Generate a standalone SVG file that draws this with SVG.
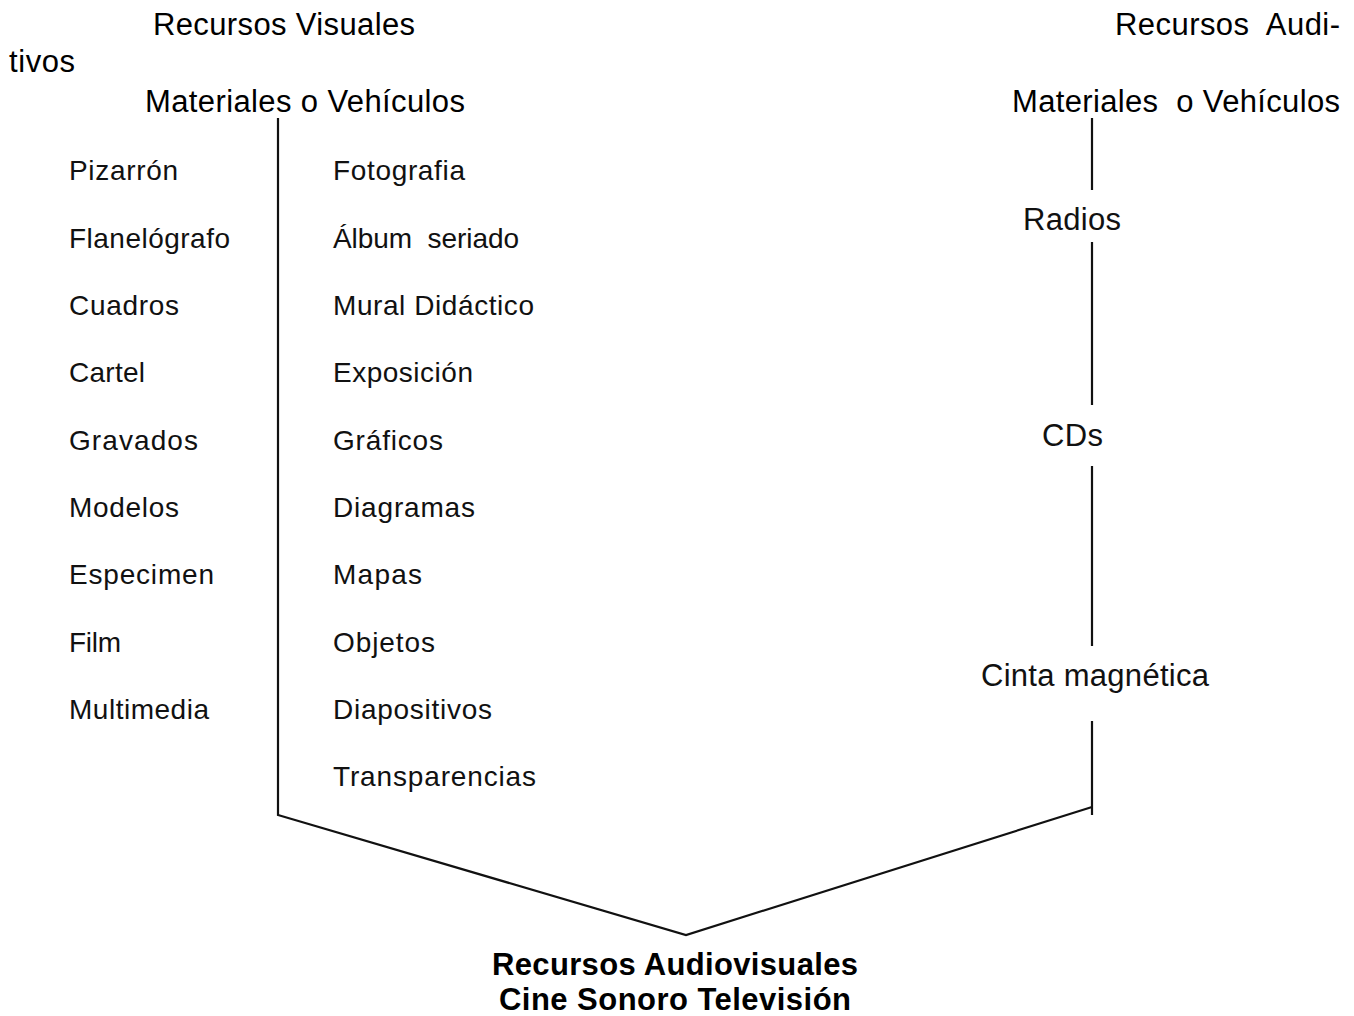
<svg xmlns="http://www.w3.org/2000/svg" width="1354" height="1016" viewBox="0 0 1354 1016">
<style>
.h{font-family:"Liberation Sans",Arial,sans-serif;font-size:31px;fill:#000}
.i{font-family:"Liberation Sans",Arial,sans-serif;font-size:28px;fill:#111}
.r{font-family:"Liberation Sans",Arial,sans-serif;font-size:31px;fill:#111}
.b{font-family:"Liberation Sans",Arial,sans-serif;font-size:31px;font-weight:bold;fill:#000;text-anchor:middle}
.ln{fill:none;stroke:#111;stroke-width:2.2}
</style>
<rect width="1354" height="1016" fill="#fff"/>
<g id="connectors">
<polyline class="ln" points="278,118 278,815 686,935 1092,807"/>
<line class="ln" x1="1092" y1="118" x2="1092" y2="190"/>
<line class="ln" x1="1092" y1="242" x2="1092" y2="405"/>
<line class="ln" x1="1092" y1="466" x2="1092" y2="646"/>
<line class="ln" x1="1092" y1="721" x2="1092" y2="815"/>
</g>
<g id="header-visuales">
<text class="h" x="153" y="35" textLength="262">Recursos Visuales</text>
<text class="h" x="145" y="112" textLength="320">Materiales o Vehículos</text>
</g>
<g id="header-auditivos">
<text class="h" x="1115" y="35" textLength="225" xml:space="preserve">Recursos  Audi-</text>
<text class="h" x="9" y="72" textLength="66">tivos</text>
<text class="h" x="1012" y="112" textLength="328" xml:space="preserve">Materiales  o Vehículos</text>
</g>
<g id="visuales-col1">
<text class="i" x="69" y="180" textLength="109">Pizarrón</text>
<text class="i" x="69" y="247.5" textLength="161">Flanelógrafo</text>
<text class="i" x="69" y="315" textLength="110">Cuadros</text>
<text class="i" x="69" y="382" textLength="76">Cartel</text>
<text class="i" x="69" y="449.5" textLength="129">Gravados</text>
<text class="i" x="69" y="517" textLength="110">Modelos</text>
<text class="i" x="69" y="584" textLength="145">Especimen</text>
<text class="i" x="69" y="651.5" textLength="52">Film</text>
<text class="i" x="69" y="719" textLength="140">Multimedia</text>
</g>
<g id="visuales-col2">
<text class="i" x="333" y="180" textLength="132">Fotografia</text>
<text class="i" x="333" y="247.5" textLength="186" xml:space="preserve">Álbum  seriado</text>
<text class="i" x="333" y="315" textLength="201">Mural Didáctico</text>
<text class="i" x="333" y="382" textLength="140">Exposición</text>
<text class="i" x="333" y="449.5" textLength="110">Gráficos</text>
<text class="i" x="333" y="517" textLength="142">Diagramas</text>
<text class="i" x="333" y="584" textLength="89">Mapas</text>
<text class="i" x="333" y="651.5" textLength="102">Objetos</text>
<text class="i" x="333" y="719" textLength="159">Diapositivos</text>
<text class="i" x="333" y="786" textLength="203">Transparencias</text>
</g>
<g id="auditivos-items">
<text class="r" x="1023" y="230" textLength="98">Radios</text>
<text class="r" x="1042" y="446" textLength="61">CDs</text>
<text class="r" x="981" y="686" textLength="228">Cinta magnética</text>
</g>
<g id="audiovisuales">
<text class="b" x="675" y="975" textLength="366">Recursos Audiovisuales</text>
<text class="b" x="675" y="1010" textLength="352">Cine Sonoro Televisión</text>
</g>
</svg>
